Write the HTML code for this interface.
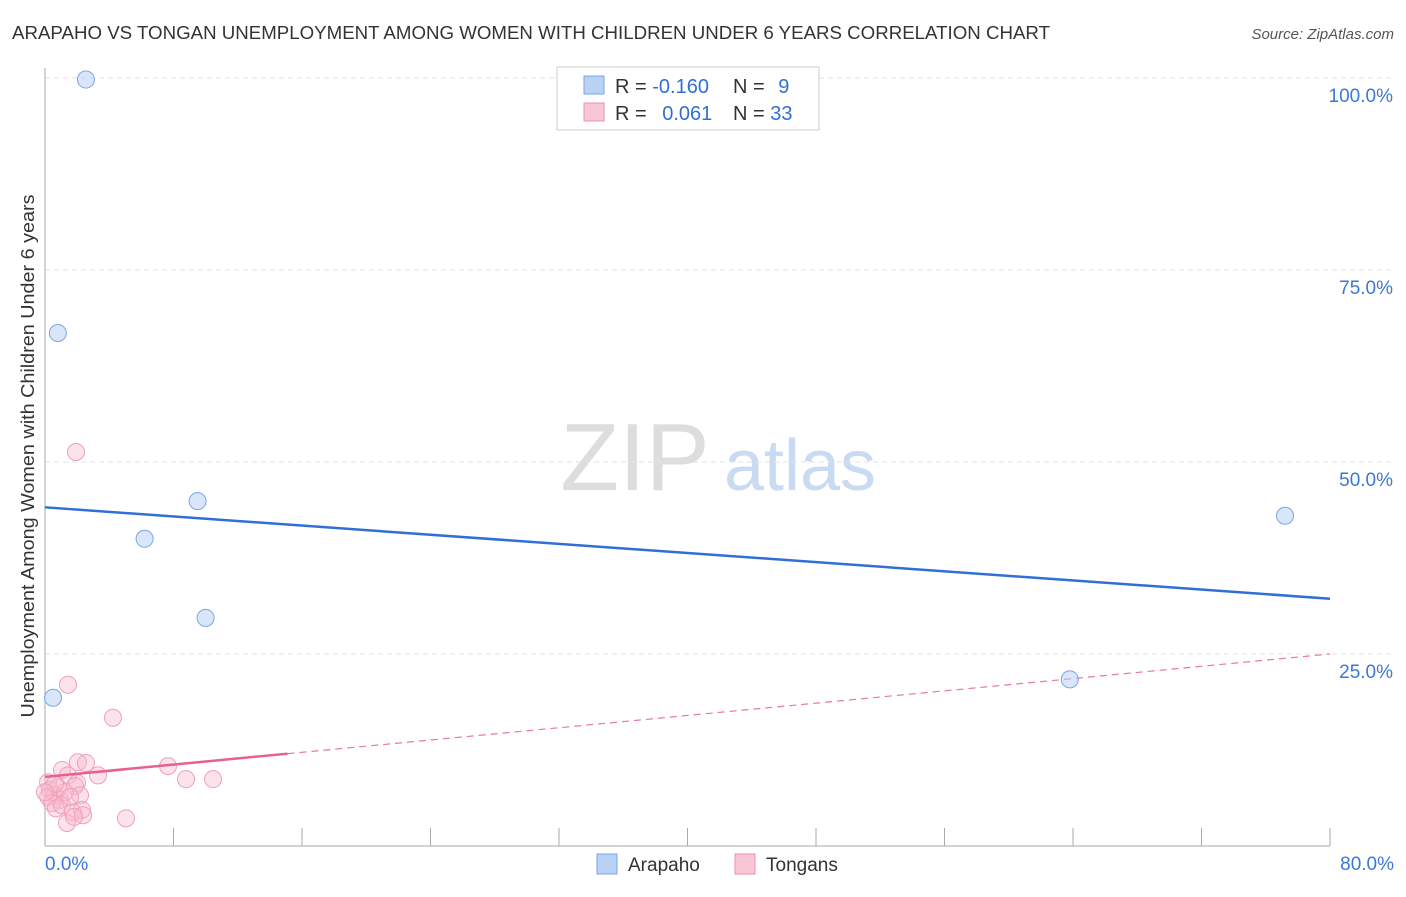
<!DOCTYPE html>
<html><head><meta charset="utf-8"><style>
body{margin:0;background:#fff;font-family:"Liberation Sans",sans-serif;}
svg text{font-family:"Liberation Sans",sans-serif;}
</style></head><body>
<svg id="chart" width="1406" height="892" xmlns="http://www.w3.org/2000/svg">
<text x="12" y="39" font-size="18" fill="#333" textLength="1038" lengthAdjust="spacingAndGlyphs">ARAPAHO VS TONGAN UNEMPLOYMENT AMONG WOMEN WITH CHILDREN UNDER 6 YEARS CORRELATION CHART</text>
<text x="1394" y="39" font-size="15" fill="#555" text-anchor="end" font-style="italic">Source: ZipAtlas.com</text>
<text transform="translate(34,456) rotate(-90)" font-size="18" fill="#333" text-anchor="middle" textLength="523" lengthAdjust="spacingAndGlyphs">Unemployment Among Women with Children Under 6 years</text>
<g id="watermark">
<text x="635" y="490" font-size="96" fill="#ddd" font-family="Liberation Serif" text-anchor="middle">ZIP</text>
<text x="800" y="490" font-size="72" fill="#c9daf3" text-anchor="middle">atlas</text>
</g>
<g id="grid"></g><g id="axes"></g><g id="trends"></g><g id="dots"></g>
<g>
<rect x="557" y="67" width="262" height="63" fill="#fff" stroke="#ccc"/>
<rect x="584" y="76" width="20" height="18" fill="#b8d1f5" stroke="#7aa6e6"/>
<rect x="584" y="103" width="20" height="18" fill="#f9c6d5" stroke="#ee90ad"/>
<text x="615" y="93" font-size="20" fill="#333">R = <tspan fill="#2f6fd6">-0.160</tspan></text>
<text x="733" y="93" font-size="20" fill="#333">N = <tspan fill="#2f6fd6" dx="8">9</tspan></text>
<text x="615" y="120" font-size="20" fill="#333">R = <tspan fill="#2f6fd6" dx="10">0.061</tspan></text>
<text x="733" y="120" font-size="20" fill="#333">N = <tspan fill="#2f6fd6">33</tspan></text>
</g>
<g>
<rect x="597" y="854" width="20" height="20" fill="#b8d1f5" stroke="#7aa6e6"/>
<text x="628" y="871" font-size="19" fill="#333">Arapaho</text>
<rect x="735" y="854" width="20" height="20" fill="#f9c6d5" stroke="#ee90ad"/>
<text x="766" y="871" font-size="19" fill="#333">Tongans</text>
</g>
</svg>
<script>
const yTicks=[25,50,75,100];
const yTickLabels=["25.0%","50.0%","75.0%","100.0%"];
const xTickLabels=["0.0%","80.0%"];
const arapahoX=[2.55,0.8,9.5,6.2,10.0,0.5,63.8,77.2];
const arapahoY=[99.8,66.8,44.9,40.0,29.7,19.3,21.7,43.0];
const tongansX=[1.43,4.23,7.66,8.78,10.46,2.05,2.55,3.30,1.06,1.43,1.99,0.19,0.31,0.62,0.93,0.19,0.44,0.81,1.25,1.87,2.18,0.68,1.06,1.74,2.30,2.37,1.37,1.81,5.04,0.62,1.93,0,1.56];
const tongansY=[21.0,16.7,10.4,8.7,8.7,10.9,10.8,9.2,9.9,9.2,8.2,8.3,7.3,6.6,6.0,6.4,5.6,7.6,7.0,7.8,6.6,4.9,5.3,4.4,4.7,4.0,3.0,3.8,3.6,8.1,51.3,7.0,6.4];
const arapahoTrend=[44.1,32.2];
const tongansTrend=[9.0,25.0];
const tongansSolidEnd=15.1;
const NS="http://www.w3.org/2000/svg";
const X=v=>45+v/80*1285, Y=v=>846-v*7.68;
function mk(tag,attrs,parent){const e=document.createElementNS(NS,tag);for(const k in attrs)e.setAttribute(k,attrs[k]);document.getElementById(parent).appendChild(e);return e;}
yTicks.forEach((t,i)=>{
 const l=mk('line',{x1:45,x2:1394,y1:Y(t),y2:Y(t),stroke:'#e2e2e2','stroke-dasharray':'5,4'},'grid');
 
 
 const tx=mk('text',{x:1393,y:Y(t)+24,'font-size':19,fill:'#3b78d8','text-anchor':'end'},'axes');
 tx.textContent=yTickLabels[i];
 
 
});
const ax=mk('line',{x1:45,x2:45,y1:68,y2:846,stroke:'#aaa'},'axes');


const bx=mk('line',{x1:45,x2:1330,y1:846,y2:846,stroke:'#aaa'},'axes');


for(let i=0;i<=10;i++){const t=mk('line',{x1:X(i*8),x2:X(i*8),y1:828,y2:846,stroke:'#aaa'},'axes');
 
 }
[[0,'start',45],[1,'end',1394]].forEach(([i,a,x])=>{const t=mk('text',{x:x,y:870,'font-size':19,fill:'#3b78d8','text-anchor':a},'axes');t.textContent=xTickLabels[i];
 
 });
const bl=mk('line',{x1:X(0),x2:X(80),y1:Y(arapahoTrend[0]),y2:Y(arapahoTrend[1]),stroke:'#2f6fd6','stroke-width':2.5},'trends');


const ty=v=>tongansTrend[0]+(tongansTrend[1]-tongansTrend[0])*v/80;
const pd=mk('line',{x1:X(tongansSolidEnd),x2:X(80),y1:Y(ty(tongansSolidEnd)),y2:Y(tongansTrend[1]),stroke:'#e8799c','stroke-width':1.2,'stroke-dasharray':'7,5'},'trends');


tongansX.forEach((x,i)=>{const c=mk('circle',{cx:X(x),cy:Y(tongansY[i]),r:8.5,fill:'rgba(248,185,205,0.4)',stroke:'#f0a0b8','stroke-width':1},'dots');
 
 });
const ps=mk('line',{x1:X(0),x2:X(tongansSolidEnd),y1:Y(tongansTrend[0]),y2:Y(ty(tongansSolidEnd)),stroke:'#e8608c','stroke-width':2.5},'dots');


arapahoX.forEach((x,i)=>{const c=mk('circle',{cx:X(x),cy:Y(arapahoY[i]),r:8.5,fill:'rgba(180,205,245,0.5)',stroke:'#7aa6e6','stroke-width':1},'dots');
 
 });
</script>
</body></html>
